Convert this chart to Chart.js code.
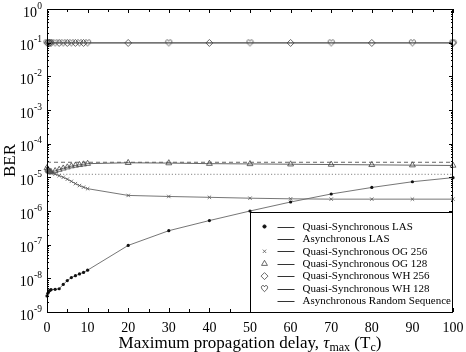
<!DOCTYPE html>
<html>
<head>
<meta charset="utf-8">
<script src="https://cdn.jsdelivr.net/npm/chart.js@4.4.1/dist/chart.umd.min.js"></script>
<style>
    html, body { margin: 0; padding: 0; background: #fff; }
    #wrap { width: 466px; height: 352px; }
</style>
</head>
<body>
<div id="wrap"><canvas id="ber-chart" width="466" height="352"></canvas></div>
<script>
// maximum propagation delay, in chips
const tauMax = [0, 0.2, 0.4, 0.6, 0.8, 1, 2, 3, 4, 5, 6, 7, 8, 9, 10, 20, 30, 40, 50, 60, 70, 80, 90, 100]

const berQsLas = [3.0e-9, 3.6e-9, 4.0e-9, 4.3e-9, 4.5e-9, 4.6e-9, 4.7e-9, 4.9e-9, 6.6e-9, 8.6e-9, 1.05e-8, 1.2e-8, 1.35e-8, 1.5e-8, 1.75e-8, 9.5e-8, 2.6e-7, 5.2e-7, 1.0e-6, 1.85e-6, 3.2e-6, 5.0e-6, 7.4e-6, 9.8e-6]
const berAsyncLas = [2.8e-5, 2.8e-5, 2.8e-5, 2.8e-5, 2.8e-5, 2.8e-5, 2.8e-5, 2.8e-5, 2.8e-5, 2.8e-5, 2.8e-5, 2.8e-5, 2.8e-5, 2.8e-5, 2.8e-5, 2.8e-5, 2.8e-5, 2.8e-5, 2.8e-5, 2.8e-5, 2.8e-5, 2.8e-5, 2.8e-5, 2.8e-5]
const berQsOg256 = [1.9e-5, 1.7e-5, 1.55e-5, 1.45e-5, 1.4e-5, 1.35e-5, 1.25e-5, 1.12e-5, 1.0e-5, 8.8e-6, 7.6e-6, 6.5e-6, 5.7e-6, 5.1e-6, 4.6e-6, 2.9e-6, 2.7e-6, 2.55e-6, 2.4e-6, 2.3e-6, 2.25e-6, 2.25e-6, 2.25e-6, 2.25e-6]
const berQsOg128 = [1.9e-5, 1.7e-5, 1.55e-5, 1.5e-5, 1.45e-5, 1.45e-5, 1.55e-5, 1.7e-5, 1.85e-5, 2.0e-5, 2.15e-5, 2.25e-5, 2.35e-5, 2.45e-5, 2.55e-5, 2.7e-5, 2.65e-5, 2.55e-5, 2.5e-5, 2.45e-5, 2.4e-5, 2.35e-5, 2.3e-5, 2.25e-5]
const berQsWh256 = [0.098, 0.098, 0.098, 0.098, 0.098, 0.098, 0.098, 0.098, 0.098, 0.098, 0.098, 0.098, 0.098, 0.098, 0.098, 0.098, 0.098, 0.098, 0.098, 0.098, 0.098, 0.098, 0.098, 0.098]
const berQsWh128 = [0.099, 0.099, 0.099, 0.099, 0.099, 0.099, 0.099, 0.099, 0.099, 0.099, 0.099, 0.099, 0.099, 0.099, 0.099, 0.099, 0.099, 0.099, 0.099, 0.099, 0.099, 0.099, 0.099, 0.099]
const berAsyncRandom = [1.23e-5, 1.23e-5, 1.23e-5, 1.23e-5, 1.23e-5, 1.23e-5, 1.23e-5, 1.23e-5, 1.23e-5, 1.23e-5, 1.23e-5, 1.23e-5, 1.23e-5, 1.23e-5, 1.23e-5, 1.23e-5, 1.23e-5, 1.23e-5, 1.23e-5, 1.23e-5, 1.23e-5, 1.23e-5, 1.23e-5, 1.23e-5]

const xTicks = [0, 10, 20, 30, 40, 50, 60, 70, 80, 90, 100]
const yExponents = [0, -1, -2, -3, -4, -5, -6, -7, -8, -9]

const SERIF = 'Liberation Serif'
const LINE = '#555'

function pts(values) {
    return tauMax.map((t, i) => ({ x: t, y: values[i] }))
}

// no heart in chart.js, so build one
function heartMark() {
    const c = document.createElement('canvas')
    c.width = 9
    c.height = 9
    const g = c.getContext('2d')
    g.strokeStyle = '#444'
    g.lineWidth = 0.9
    g.beginPath()
    g.moveTo(4.5, 7.6)
    g.bezierCurveTo(1.2, 5, 0.6, 2.6, 2.3, 1.7)
    g.bezierCurveTo(3.5, 1.2, 4.3, 2, 4.5, 2.9)
    g.bezierCurveTo(4.7, 2, 5.5, 1.2, 6.7, 1.7)
    g.bezierCurveTo(8.4, 2.6, 7.8, 5, 4.5, 7.6)
    g.stroke()
    return c
}
const heart = heartMark()

// WH markers alternate along the line
const whEven = (ctx) => (ctx.dataIndex % 2 === 0 || ctx.dataIndex === tauMax.length - 1 ? 3.5 : 0)
const whOdd = (ctx) => (ctx.dataIndex % 2 === 1 ? 3.5 : 0)

const datasets = [
    { label: 'Quasi-Synchronous LAS', data: pts(berQsLas), borderColor: '#666', pointStyle: 'circle', pointRadius: 1.6, pointBackgroundColor: '#111', pointBorderColor: '#111', pointBorderWidth: 0 },
    { label: 'Asynchronous LAS', data: pts(berAsyncLas), borderColor: LINE, borderDash: [4, 3], pointRadius: 0 },
    { label: 'Quasi-Synchronous OG 256', data: pts(berQsOg256), borderColor: '#666', pointStyle: 'crossRot', pointRadius: 2.4, pointBorderColor: '#555', pointBorderWidth: 0.8 },
    { label: 'Quasi-Synchronous OG 128', data: pts(berQsOg128), borderColor: LINE, pointStyle: 'triangle', pointRadius: 3.4, pointBorderColor: '#444', pointBackgroundColor: 'rgba(0,0,0,0)', pointBorderWidth: 0.8 },
    { label: 'Quasi-Synchronous WH 256', data: pts(berQsWh256), borderColor: LINE, pointStyle: 'rectRot', pointRadius: whOdd, pointBorderColor: '#444', pointBackgroundColor: 'rgba(0,0,0,0)', pointBorderWidth: 0.8 },
    { label: 'Quasi-Synchronous WH 128', data: pts(berQsWh128), borderColor: LINE, pointStyle: heart, pointRadius: whEven },
    { label: 'Asynchronous Random Sequence', data: pts(berAsyncRandom), borderColor: '#777', borderDash: [1.2, 2], pointRadius: 0 },
]
datasets.forEach((d) => {
    d.borderWidth = 0.9
    d.fill = false
    d.tension = 0
    d.clip = false
})

const frame = {
    id: 'frame',
    afterDatasetsDraw(chart) {
        const ctx = chart.ctx
        const a = chart.chartArea
        const xs = chart.scales.x
        const ys = chart.scales.y
        ctx.save()
        ctx.strokeStyle = '#000'
        ctx.lineWidth = 1
        ctx.strokeRect(Math.round(a.left) + 0.5, Math.round(a.top) + 0.5, Math.round(a.right - a.left) - 1, Math.round(a.bottom - a.top))

        // inward ticks
        ctx.beginPath()
        for (let v = 0; v <= 100; v += 5) {
            const px = Math.round(xs.getPixelForValue(v)) + 0.5
            const len = v % 10 === 0 ? 4 : 3
            ctx.moveTo(px, a.bottom); ctx.lineTo(px, a.bottom - len)
            ctx.moveTo(px, a.top); ctx.lineTo(px, a.top + len)
        }
        for (let e = -9; e <= 0; e++) {
            for (let m = 1; m <= 9; m++) {
                if (e === 0 && m > 1) break
                const py = Math.round(ys.getPixelForValue(m * Math.pow(10, e))) + 0.5
                const len = m === 1 ? 4 : 2
                ctx.moveTo(a.left, py); ctx.lineTo(a.left + len, py)
                ctx.moveTo(a.right, py); ctx.lineTo(a.right - len, py)
            }
        }
        ctx.stroke()

        // y tick labels 10^n
        ctx.fillStyle = '#000'
        ctx.textBaseline = 'alphabetic'
        yExponents.forEach((e) => {
            const py = ys.getPixelForValue(Math.pow(10, e))
            const exp = String(e)
            ctx.font = '9.5px "' + SERIF + '"'
            const ew = ctx.measureText(exp).width
            const ex = a.left - 5 - ew
            ctx.textAlign = 'left'
            ctx.fillText(exp, ex, py - 0.5)
            ctx.font = '14px "' + SERIF + '"'
            ctx.textAlign = 'right'
            ctx.fillText('10', ex - 0.3, py + 7.5)
        })

        // axis titles
        ctx.font = '17px "' + SERIF + '"'
        ctx.save()
        ctx.translate(11, (a.top + a.bottom) / 2)
        ctx.rotate(-Math.PI / 2)
        ctx.textAlign = 'center'
        ctx.textBaseline = 'middle'
        ctx.fillText('BER', 0, 0)
        ctx.restore()

        const parts = [
            { t: 'Maximum propagation delay, ', f: '17px', dy: 0 },
            { t: 'τ', f: 'italic 17px', dy: 0 },
            { t: 'max', f: '12px', dy: 3.5 },
            { t: ' (T', f: '17px', dy: 0 },
            { t: 'c', f: '12px', dy: 3.5 },
            { t: ')', f: '17px', dy: 0 },
        ]
        let total = 0
        parts.forEach((p) => {
            ctx.font = p.f + ' "' + SERIF + '"'
            p.w = ctx.measureText(p.t).width
            total += p.w
        })
        let tx = (a.left + a.right) / 2 - total / 2
        ctx.textAlign = 'left'
        ctx.textBaseline = 'alphabetic'
        parts.forEach((p) => {
            ctx.font = p.f + ' "' + SERIF + '"'
            ctx.fillText(p.t, tx, 347.5 + p.dy)
            tx += p.w
        })

        // legend box, bottom right inside the plot
        const lx = Math.round(xs.getPixelForValue(50)) + 0.5
        const lb = Math.round(a.bottom) + 0.5
        const lt = lb - 100
        ctx.fillStyle = '#fff'
        ctx.fillRect(lx, lt, a.right - lx, lb - lt)
        ctx.strokeStyle = '#000'
        ctx.lineWidth = 1
        ctx.strokeRect(lx, lt, Math.round(a.right) - 0.5 - lx, lb - lt)
        chart.data.datasets.forEach((d, i) => {
            const ry = lt + 14 + i * 12.4
            const mx = lx + 14
            const st = d.pointStyle
            const r = typeof d.pointRadius === 'function' ? 3.5 : d.pointRadius
            if (r > 0) {
                ctx.save()
                ctx.fillStyle = d.pointBackgroundColor || 'rgba(0,0,0,0)'
                ctx.strokeStyle = d.pointBorderColor || '#444'
                ctx.lineWidth = d.pointBorderWidth ?? 0.8
                Chart.helpers.drawPoint(ctx, { pointStyle: st, radius: r, rotation: 0, borderWidth: ctx.lineWidth }, mx, ry)
                ctx.restore()
            }
            ctx.strokeStyle = '#333'
            ctx.lineWidth = 1
            ctx.beginPath()
            ctx.moveTo(lx + 27, Math.round(ry) + 0.5)
            ctx.lineTo(lx + 44, Math.round(ry) + 0.5)
            ctx.stroke()
            ctx.fillStyle = '#000'
            ctx.font = '11px "' + SERIF + '"'
            ctx.textAlign = 'left'
            ctx.textBaseline = 'middle'
            ctx.fillText(d.label, lx + 52, ry + 0.5)
        })
        ctx.restore()
    },
}

const ctx = document.getElementById('ber-chart').getContext('2d')
const berChart = new Chart(ctx, {
    type: 'line',
    data: { datasets },
    options: {
        responsive: false,
        animation: false,
        devicePixelRatio: 1,
        layout: { padding: { top: 9, right: 13, left: 0, bottom: 0 } },
        plugins: { legend: { display: false }, tooltip: { enabled: false } },
        scales: {
            x: {
                type: 'linear',
                min: 0,
                max: 100,
                afterBuildTicks: (s) => { s.ticks = xTicks.map((v) => ({ value: v })) },
                ticks: { color: '#000', font: { family: SERIF, size: 14 }, padding: 0, maxRotation: 0, autoSkip: false },
                grid: { display: false },
                border: { display: false },
                afterFit: (s) => { s.height = 40 },
            },
            y: {
                type: 'logarithmic',
                min: 1e-9,
                max: 1,
                ticks: { display: false },
                grid: { display: false },
                border: { display: false },
                afterFit: (s) => { s.width = 47 },
            },
        },
    },
    plugins: [frame],
})
</script>
</body>
</html>
